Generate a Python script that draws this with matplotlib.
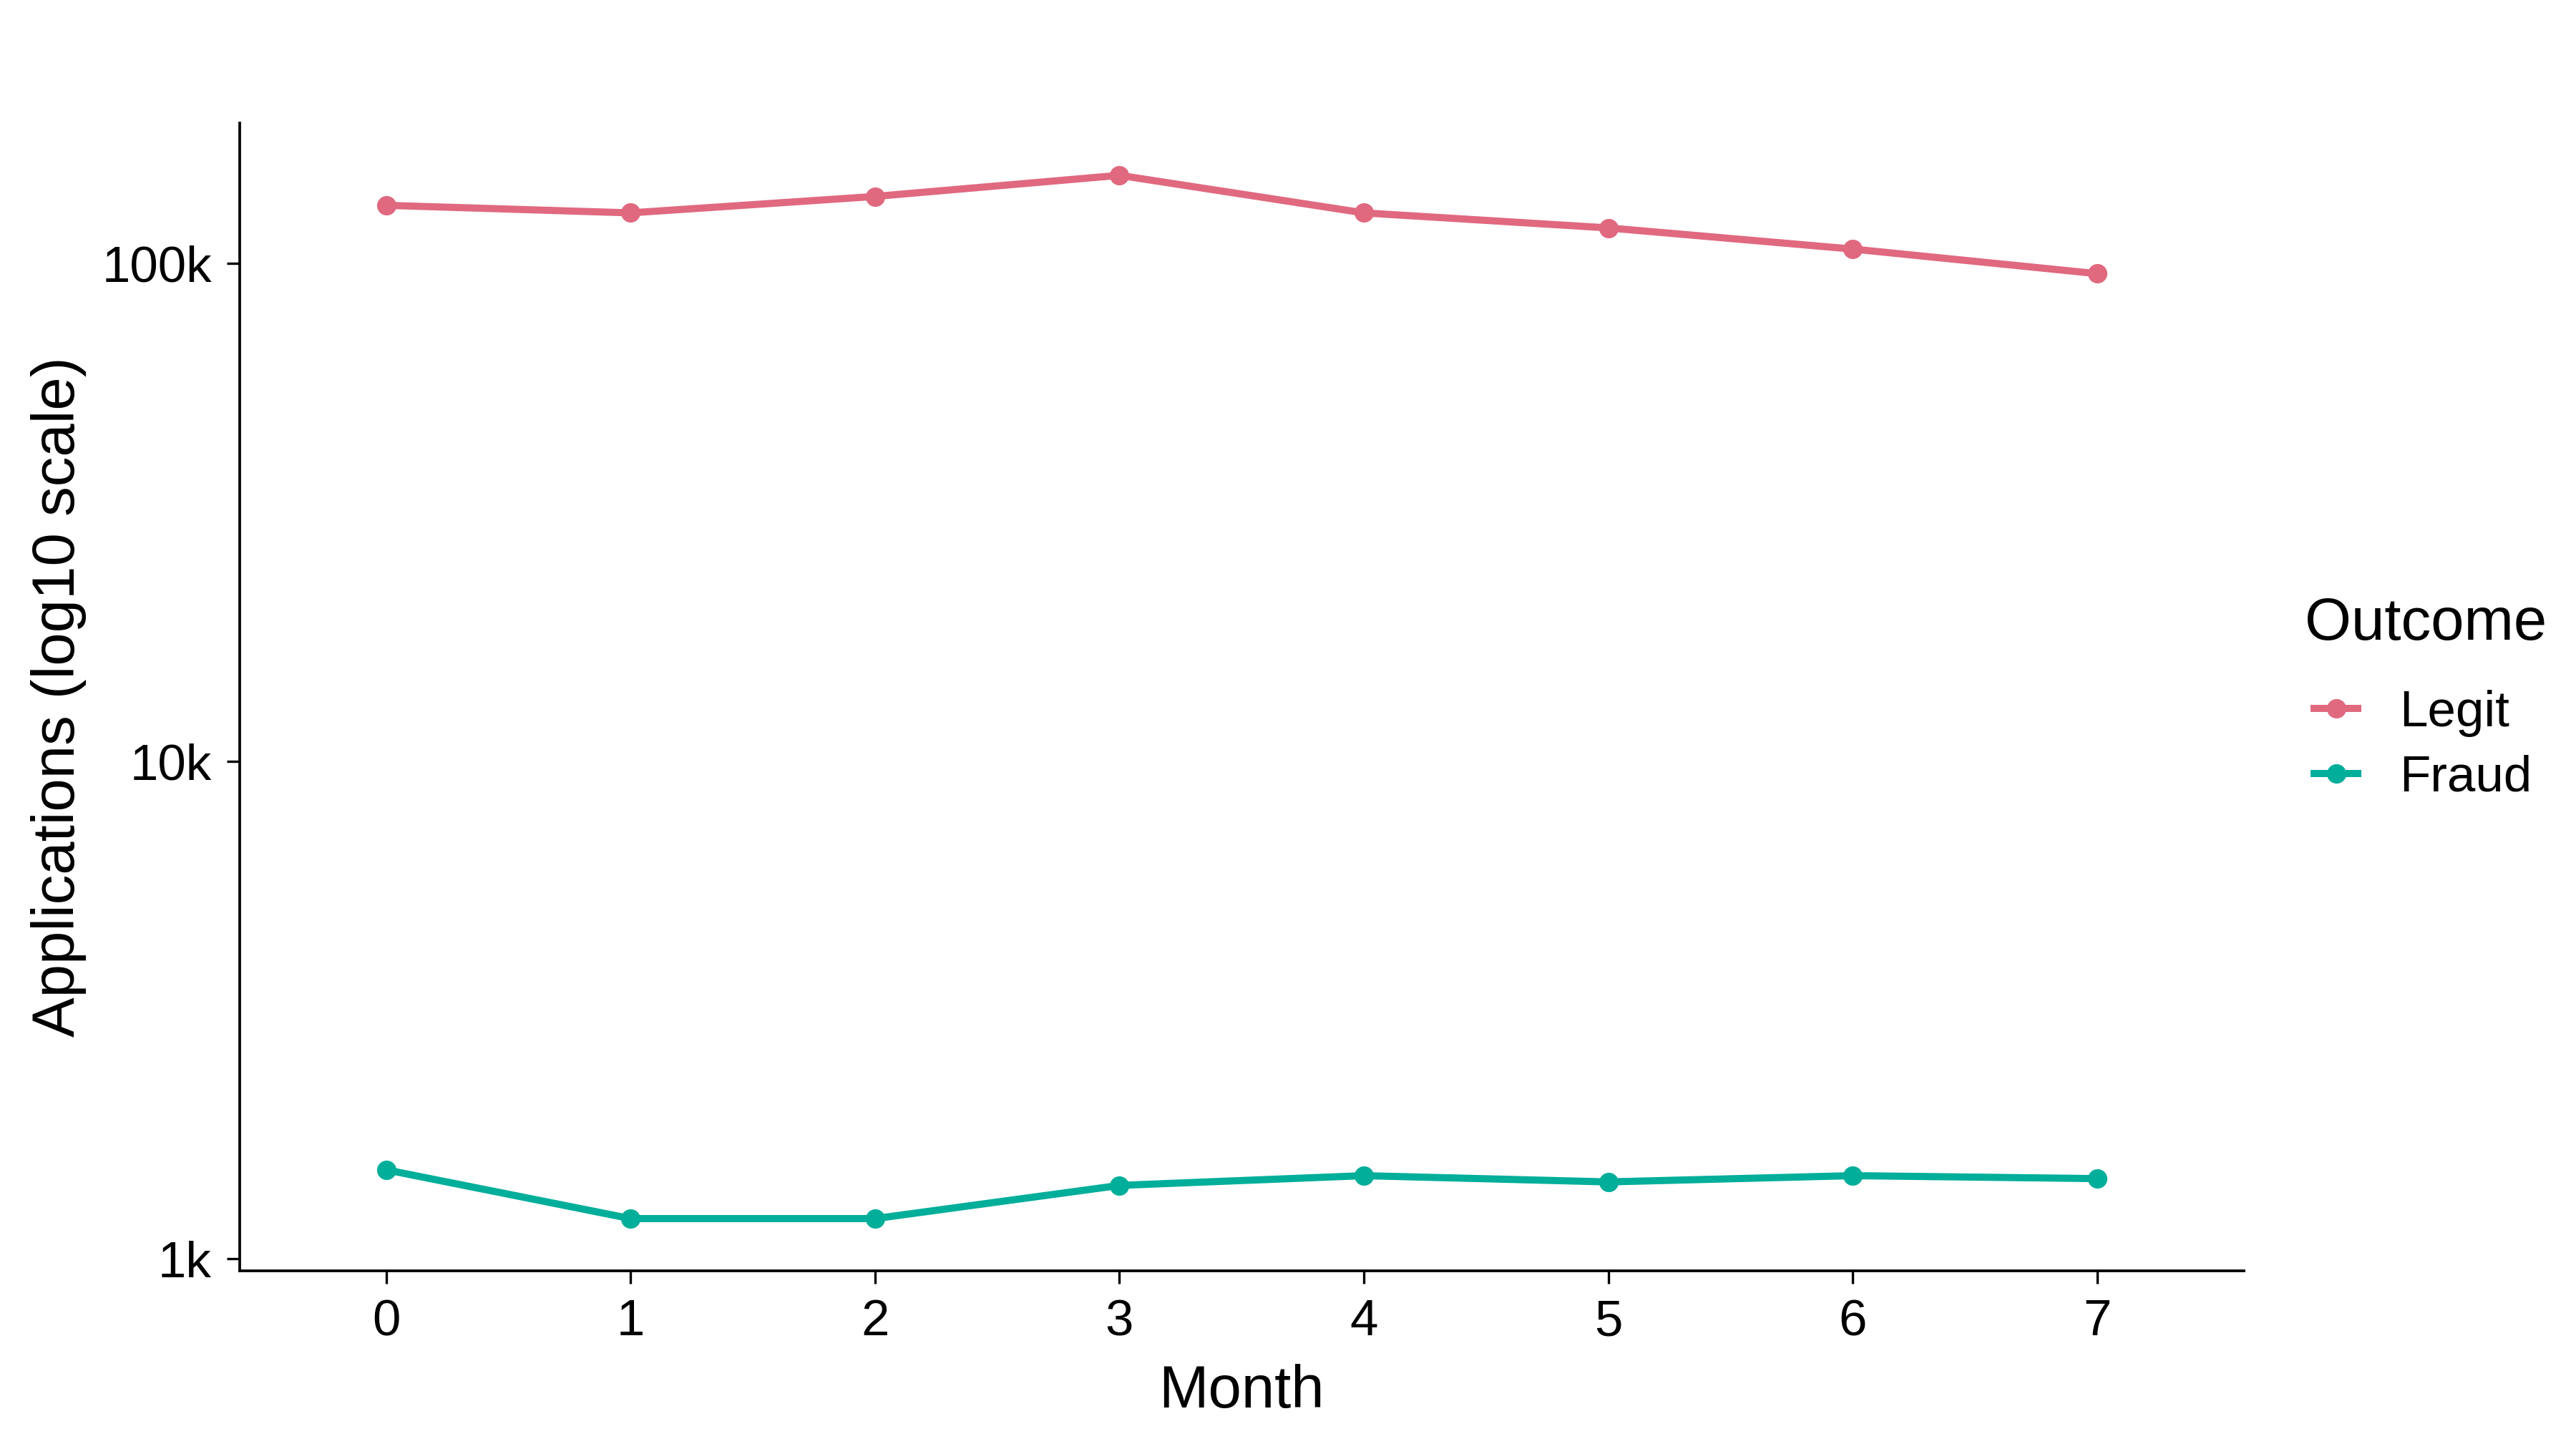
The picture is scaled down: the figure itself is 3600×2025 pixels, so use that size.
import matplotlib
matplotlib.use("Agg")
import matplotlib.pyplot as plt
import matplotlib.ticker as mticker
import numpy as np

plt.rcParams['font.family'] = ['Liberation Sans', 'DejaVu Sans']

# values (log scale)
months = [0, 1, 2, 3, 4, 5, 6, 7]
legit = [131000, 126500, 136500, 150500, 126500, 118000, 107000, 95500]
fraud = [1510, 1205, 1205, 1405, 1470, 1428, 1470, 1450]
series_names = ["Legit", "Fraud"]
series_colors = ["#E0697F", "#00AE9A"]
y_ticks = [1e3, 1e4, 1e5]
y_tick_labels = ["1k", "10k", "100k"]

fig = plt.figure(figsize=(12, 6.75), dpi=300)
ax = fig.add_axes([0.093, 0.123, 0.778, 0.792])

for name, vals, col in zip(series_names, [legit, fraud], series_colors):
    ax.plot(months, vals, color=col, lw=2.4, marker='o', ms=5.5,
            label=name, solid_capstyle='butt')

ax.set_yscale('log')
# ggplot-like 5% expansion on log scale
lo = np.log10(min(fraud))
hi = np.log10(max(legit))
pad = 0.05 * (hi - lo)
ax.set_ylim(10 ** (lo - pad), 10 ** (hi + pad))
ax.set_xlim(-0.6, 7.6)

ax.yaxis.set_major_locator(mticker.FixedLocator(y_ticks))
ax.yaxis.set_major_formatter(mticker.FixedFormatter(y_tick_labels))
ax.yaxis.set_minor_locator(mticker.NullLocator())
ax.set_xticks(months)

for s in ['top', 'right']:
    ax.spines[s].set_visible(False)
for s in ['left', 'bottom']:
    ax.spines[s].set_linewidth(0.9)
ax.tick_params(axis='both', length=4.4, width=0.8, labelsize=17, colors='black', pad=5)

ax.set_xlabel("Month", fontsize=20, labelpad=6)
ax.set_ylabel("Applications (log10 scale)", fontsize=20, labelpad=5)

# legend: title as separate text to get the ggplot spacing
fig.text(0.8948, 0.5692, "Outcome", fontsize=20, ha='left', va='center')
leg = fig.legend(loc='center left', bbox_to_anchor=(0.897, 0.4852), frameon=False,
                 fontsize=17, handlelength=1.0, handletextpad=0.75,
                 labelspacing=0.35, borderpad=0, borderaxespad=0)

fig.savefig("out.png", dpi=300)
